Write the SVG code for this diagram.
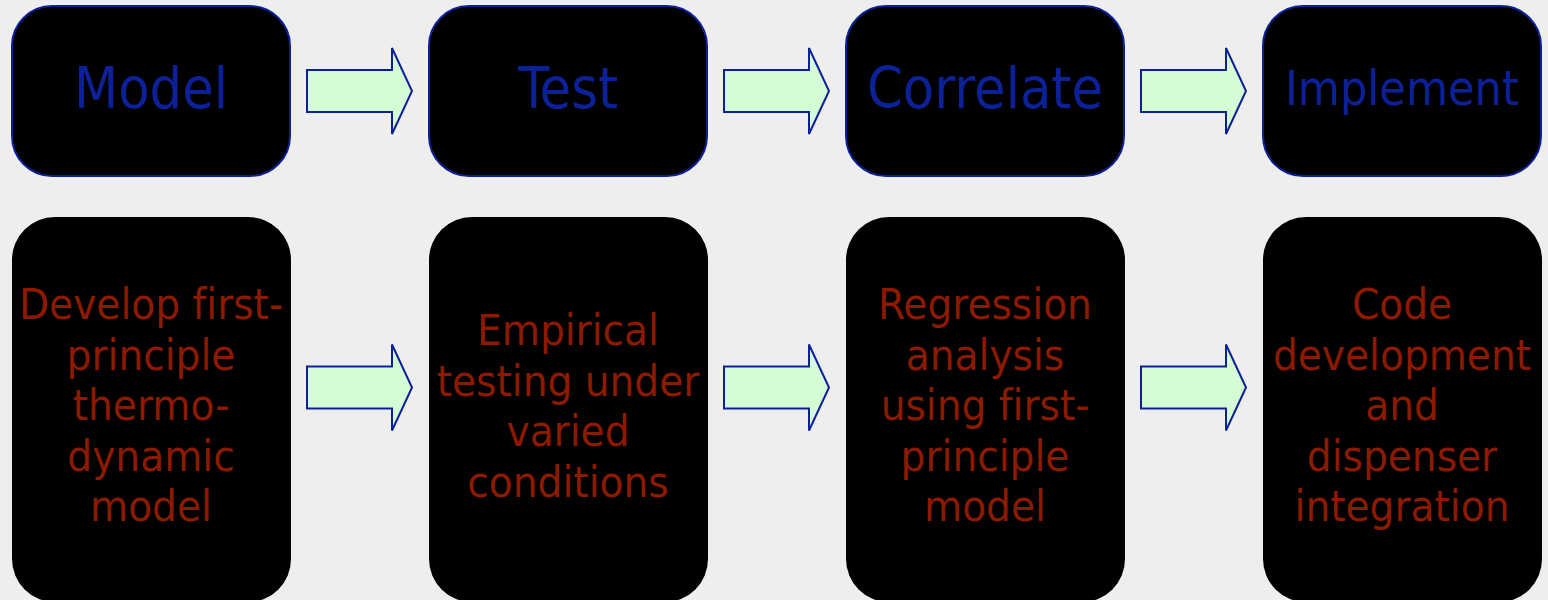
<svg xmlns="http://www.w3.org/2000/svg" width="1548" height="600" viewBox="0 0 1548 600">
  <style>
    .stage { fill: #000000; stroke: #0c2098; stroke-width: 2; }
    .detail { fill: #000000; stroke: none; }
    .title { font-family: "DejaVu Sans Condensed", "DejaVu Sans", sans-serif; font-size: 57px; fill: #0c2098; text-anchor: middle; font-variant-ligatures: none; }
    .desc { font-family: "DejaVu Sans Condensed", "DejaVu Sans", sans-serif; font-size: 43.5px; fill: #8c1a00; text-anchor: middle; font-variant-ligatures: none; }
    .flow { fill: #d6fcd6; stroke: #0c2098; stroke-width: 2; stroke-linejoin: miter; }
  </style>
  <defs>
    <!-- block arrow pointing right, origin at the body's left edge / centre line -->
    <path id="blockArrow" class="flow" d="M0,-21 H85 V-43 L105,0 L85,43 V21 H0 Z"/>
  </defs>
  <rect width="1548" height="600" fill="#eeeeee"/>

  <!-- stage headers -->
  <g id="stage-model">
    <rect class="stage" x="12" y="6" width="278" height="170" rx="40" ry="40"/>
    <text class="title" x="151" y="108">Model</text>
  </g>
  <g id="stage-test">
    <rect class="stage" x="429" y="6" width="278" height="170" rx="40" ry="40"/>
    <text class="title" x="568" y="108">Test</text>
  </g>
  <g id="stage-correlate">
    <rect class="stage" x="846" y="6" width="278" height="170" rx="40" ry="40"/>
    <text class="title" x="985" y="108">Correlate</text>
  </g>
  <g id="stage-implement">
    <rect class="stage" x="1263" y="6" width="278" height="170" rx="40" ry="40"/>
    <text class="title" x="1402" y="105" style="font-size:48px">Implement</text>
  </g>

  <!-- stage descriptions -->
  <g id="detail-model">
    <rect class="detail" x="12" y="217" width="279" height="385" rx="43" ry="43"/>
    <text class="desc" x="151" y="319">Develop first-</text>
    <text class="desc" x="151" y="369.5">principle</text>
    <text class="desc" x="151" y="420">thermo-</text>
    <text class="desc" x="151" y="470.5">dynamic</text>
    <text class="desc" x="151" y="521">model</text>
  </g>
  <g id="detail-test">
    <rect class="detail" x="429" y="217" width="279" height="385" rx="43" ry="43"/>
    <text class="desc" x="568" y="345">Empirical</text>
    <text class="desc" x="568" y="395.5">testing under</text>
    <text class="desc" x="568" y="446">varied</text>
    <text class="desc" x="568" y="496.5">conditions</text>
  </g>
  <g id="detail-correlate">
    <rect class="detail" x="846" y="217" width="279" height="385" rx="43" ry="43"/>
    <text class="desc" x="985" y="319">Regression</text>
    <text class="desc" x="985" y="369.5">analysis</text>
    <text class="desc" x="985" y="420">using first-</text>
    <text class="desc" x="985" y="470.5">principle</text>
    <text class="desc" x="985" y="521">model</text>
  </g>
  <g id="detail-implement">
    <rect class="detail" x="1263" y="217" width="279" height="385" rx="43" ry="43"/>
    <text class="desc" x="1402" y="319">Code</text>
    <text class="desc" x="1402" y="369.5">development</text>
    <text class="desc" x="1402" y="420">and</text>
    <text class="desc" x="1402" y="470.5">dispenser</text>
    <text class="desc" x="1402" y="521">integration</text>
  </g>

  <!-- connectors -->
  <g id="connectors">
    <use href="#blockArrow" x="307" y="91"/>
    <use href="#blockArrow" x="724" y="91"/>
    <use href="#blockArrow" x="1141" y="91"/>
    <use href="#blockArrow" x="307" y="387.5"/>
    <use href="#blockArrow" x="724" y="387.5"/>
    <use href="#blockArrow" x="1141" y="387.5"/>
  </g>
</svg>
